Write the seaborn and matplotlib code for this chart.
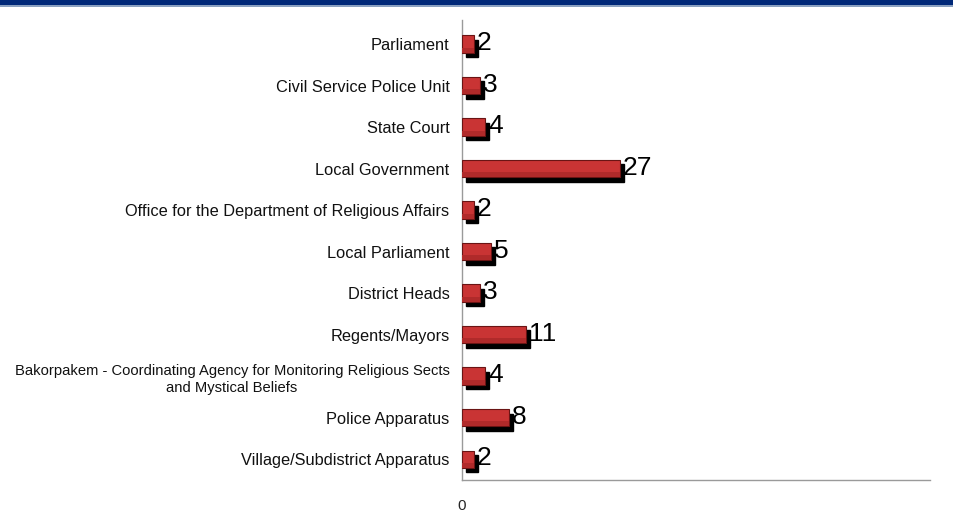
import matplotlib
matplotlib.use("Agg")
import matplotlib.pyplot as plt
import matplotlib.transforms as mtransforms
from matplotlib.patches import Rectangle
import seaborn as sns
import pandas as pd
import numpy as np

categories = [
    "Parliament",
    "Civil Service Police Unit",
    "State Court",
    "Local Government",
    "Office for the Department of Religious Affairs",
    "Local Parliament",
    "District Heads",
    "Regents/Mayors",
    "Bakorpakem - Coordinating Agency for Monitoring Religious Sects\nand Mystical Beliefs",
    "Police Apparatus",
    "Village/Subdistrict Apparatus",
]
values = [2, 3, 4, 27, 2, 5, 3, 11, 4, 8, 2]
xtick_labels = ["0"]

df = pd.DataFrame({"category": categories, "value": values})

sns.set_theme(style="white")
plt.rcParams["font.family"] = ["Liberation Sans", "DejaVu Sans"]

fig = plt.figure(figsize=(9.54, 5.25), dpi=100)
fig.patch.set_facecolor("white")
ax = fig.add_axes([462 / 954, 1 - 480 / 525, (930 - 462) / 954, (480 - 20) / 525])

sns.barplot(data=df, y="category", x="value", orient="h", color="#c93434",
            saturation=1, width=0.42, edgecolor="#6a1414", linewidth=0.8, ax=ax, zorder=3)

# drop shadows and darker lower band (gradient look)
for p in list(ax.patches):
    off = mtransforms.offset_copy(ax.transData, fig=fig, x=4, y=-4.5, units="dots")
    sh = Rectangle((p.get_x(), p.get_y()), p.get_width(), p.get_height(),
                   transform=off, facecolor="black", edgecolor="black", zorder=2)
    ax.add_patch(sh)
    lo = Rectangle((p.get_x(), p.get_y() + p.get_height() * 0.7), p.get_width(), p.get_height() * 0.3,
                   transform=ax.transData, facecolor="#b02a2a", edgecolor="none", zorder=3.5)
    ax.add_patch(lo)

for i, v in enumerate(values):
    tr = mtransforms.offset_copy(ax.transData, fig=fig, x=3, y=1, units="dots")
    ax.text(v, i, str(v), transform=tr, ha="left", va="center", fontsize=19,
            color="black", zorder=5)

ax.set_xlim(0, 80)
ax.set_ylim(10.48, -0.58)
ax.set_xticks([0])
ax.set_xticklabels(xtick_labels, fontsize=11)
ax.set_xlabel("")
ax.set_ylabel("")
ax.tick_params(axis="x", length=0, pad=14)
ax.tick_params(axis="y", which="major", length=0, pad=9, labelsize=11.8, labelcolor="#111111")
for lab in ax.get_yticklabels():
    lab.set_multialignment("center")
    if "\n" in lab.get_text():
        lab.set_fontsize(10.6)
        lab.set_linespacing(1.3)
ax.set_yticks(np.arange(-0.5, 10.6, 1.0), minor=True)
ax.tick_params(axis="y", which="minor", length=6, color="#9a9a9a", width=1, direction="out")

for s in ["top", "right"]:
    ax.spines[s].set_visible(False)
for s in ["left", "bottom"]:
    ax.spines[s].set_color("#9a9a9a")
    ax.spines[s].set_linewidth(1)
ax.set_facecolor("white")

# top banner
fig.patches.append(Rectangle((0, 1 - 5 / 525), 1, 5 / 525, transform=fig.transFigure,
                             facecolor="#002878", edgecolor="none", zorder=0))
fig.patches.append(Rectangle((0, 1 - 7 / 525), 1, 2 / 525, transform=fig.transFigure,
                             facecolor="#8aa0c0", edgecolor="none", zorder=0))

fig.savefig("out.png", dpi=100)
